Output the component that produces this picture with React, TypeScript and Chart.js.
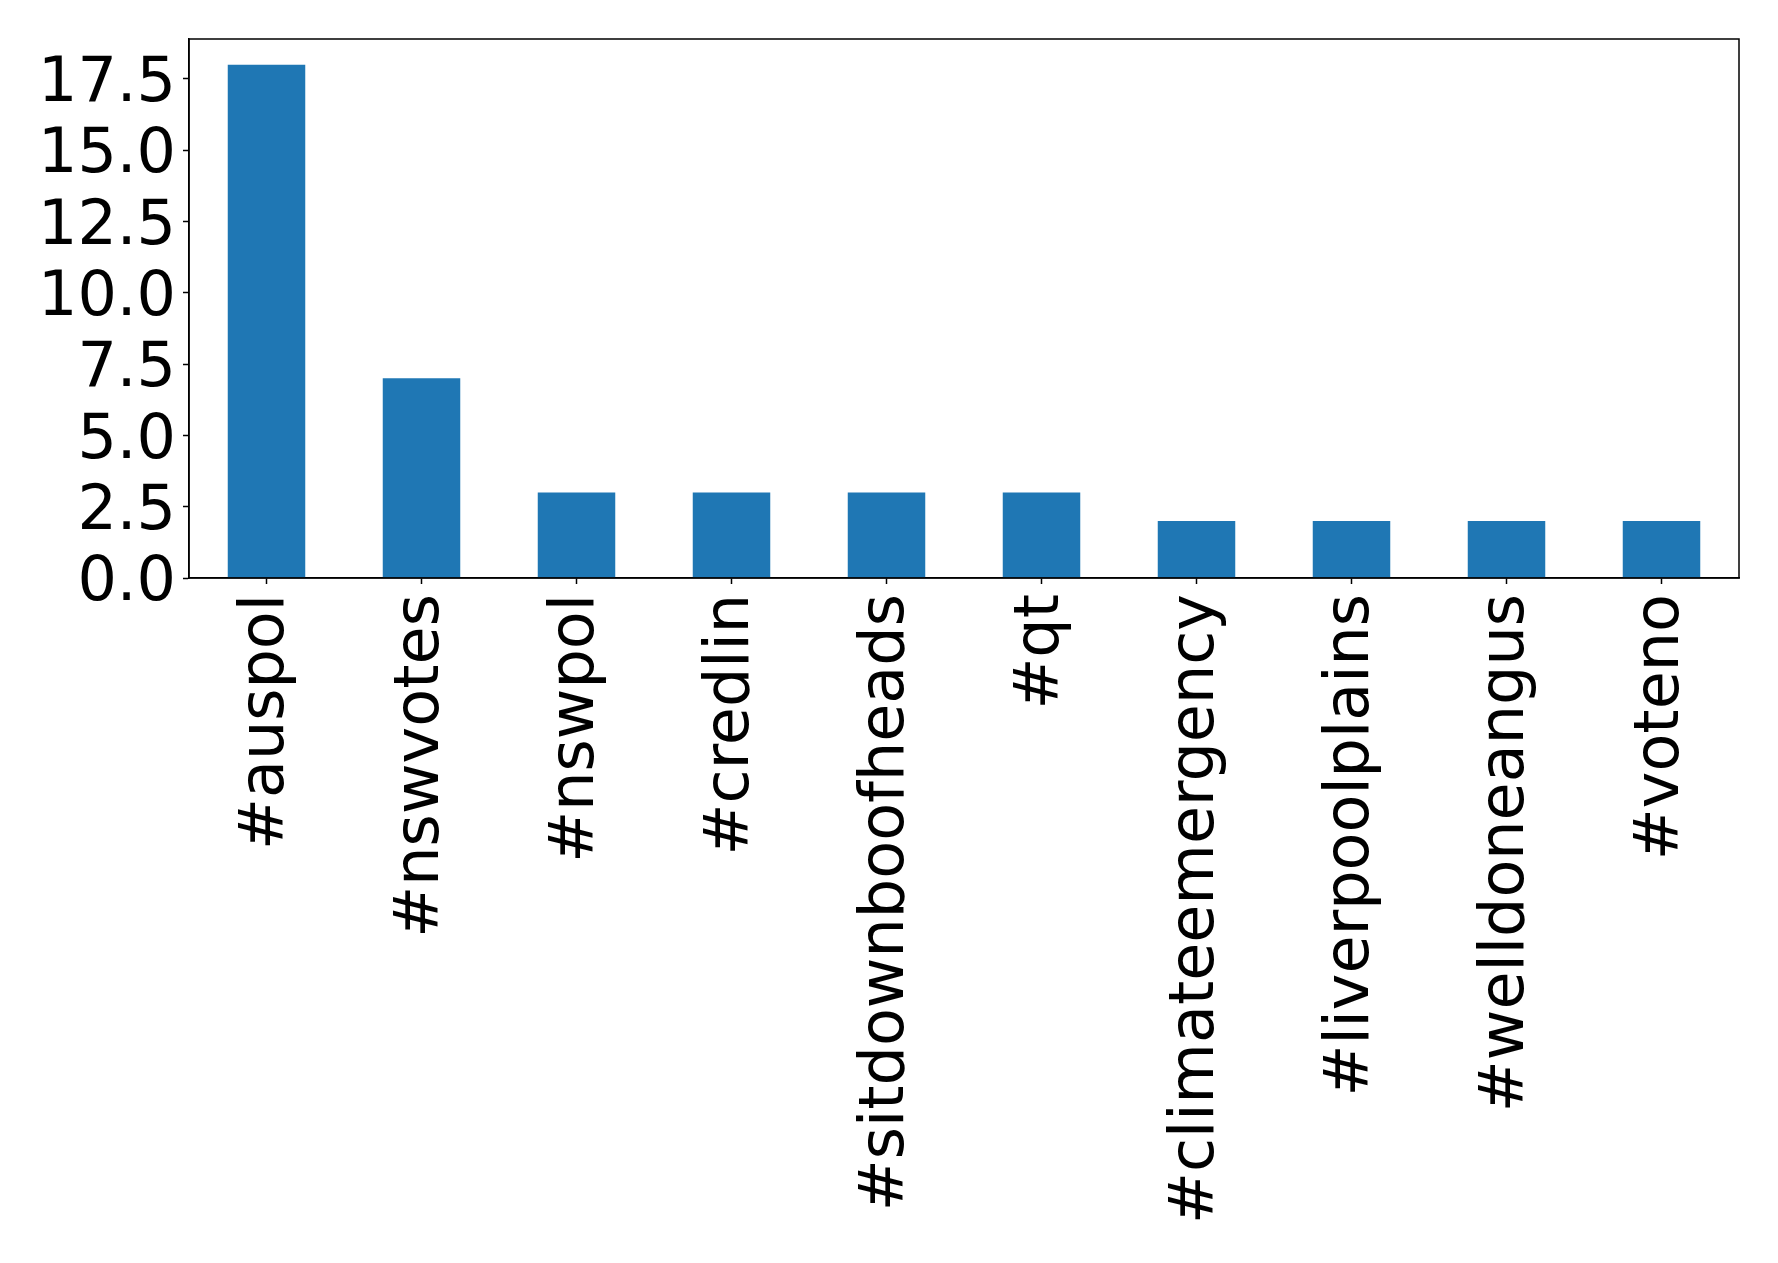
import React, { useEffect, useRef } from "react";
import { Chart, registerables } from "chart.js";

Chart.register(...registerables);

const categories = [
  "#auspol",
  "#nswvotes",
  "#nswpol",
  "#credlin",
  "#sitdownboofheads",
  "#qt",
  "#climateemergency",
  "#liverpoolplains",
  "#welldoneangus",
  "#voteno",
];
const counts = [18, 7, 3, 3, 3, 3, 2, 2, 2, 2];
const yTicks = [0, 2.5, 5, 7.5, 10, 12.5, 15, 17.5];

const W = 1778;
const H = 1263;
const AREA_LEFT = 189;
const AREA_RIGHT = 1739;
const AREA_TOP = 39;
const AREA_BOTTOM = 578;

const frame = {
  id: "frame",
  afterDatasetsDraw(chart: any) {
    const { ctx, chartArea } = chart;
    ctx.save();
    ctx.strokeStyle = "#000";
    ctx.lineWidth = 1.5;
    ctx.strokeRect(
      chartArea.left,
      chartArea.top,
      chartArea.right - chartArea.left,
      chartArea.bottom - chartArea.top
    );
    ctx.restore();
  },
};

export default function App() {
  const ref = useRef<HTMLCanvasElement | null>(null);

  useEffect(() => {
    document.body.style.margin = "0";
    const canvas = ref.current;
    if (!canvas) return;
    const font = { family: "'DejaVu Sans', sans-serif", size: 62 };
    const chart = new Chart(canvas, {
      type: "bar",
      data: {
        labels: categories,
        datasets: [
          {
            data: counts,
            backgroundColor: "#1f77b4",
            borderWidth: 0,
            barPercentage: 0.5,
            categoryPercentage: 1,
          },
        ],
      },
      options: {
        animation: false,
        responsive: false,
        maintainAspectRatio: false,
        devicePixelRatio: 1,
        layout: {
          padding: { left: 0, top: AREA_TOP, right: W - AREA_RIGHT, bottom: 0 },
        },
        plugins: {
          legend: { display: false },
          tooltip: { enabled: false },
          title: { display: false },
        },
        scales: {
          x: {
            type: "category",
            offset: true,
            grid: {
              offset: false,
              drawOnChartArea: false,
              drawTicks: true,
              tickLength: 6,
              tickWidth: 1.5,
              color: "#000",
            },
            border: { display: true, color: "#000", width: 1.5 },
            ticks: {
              color: "#000",
              font,
              maxRotation: 90,
              minRotation: 90,
              autoSkip: false,
              padding: 10,
            },
            afterFit(scale: any) {
              scale.height = H - AREA_BOTTOM;
              scale.paddingLeft = 0;
              scale.paddingRight = 0;
              scale.paddingTop = 0;
              scale.paddingBottom = 0;
            },
          },
          y: {
            type: "linear",
            min: 0,
            max: 18.9,
            grid: {
              drawOnChartArea: false,
              drawTicks: true,
              tickLength: 6,
              tickWidth: 1.5,
              color: "#000",
            },
            border: { display: true, color: "#000", width: 1.5 },
            ticks: {
              color: "#000",
              font,
              padding: 7,
              labelOffset: 6,
              autoSkip: false,
              includeBounds: false,
              callback: (v: any) => Number(v).toFixed(1),
            },
            afterBuildTicks(scale: any) {
              scale.ticks = yTicks.map((v) => ({ value: v }));
            },
            afterFit(scale: any) {
              scale.width = AREA_LEFT;
              scale.paddingLeft = 0;
              scale.paddingRight = 0;
              scale.paddingTop = 0;
              scale.paddingBottom = 0;
            },
          },
        },
      },
      plugins: [frame],
    });
    return () => chart.destroy();
  }, []);

  return (
    <div style={{ position: "absolute", left: 0, top: 0, width: W, height: H, background: "#fff" }}>
      <canvas ref={ref} width={W} height={H} style={{ width: W, height: H, display: "block" }} />
    </div>
  );
}
